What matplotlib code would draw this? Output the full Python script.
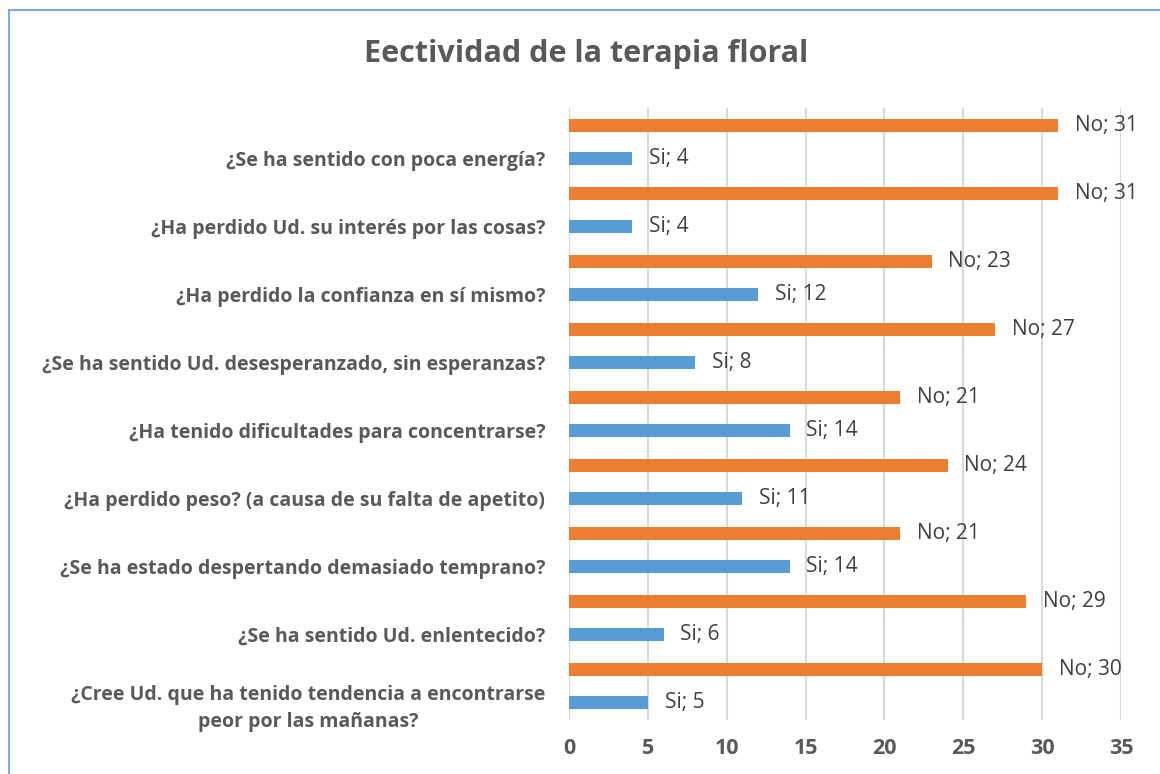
import numpy as np
import matplotlib.pyplot as plt
from matplotlib.patches import Rectangle

plt.rcParams['font.family'] = ['Open Sans', 'DejaVu Sans']

questions = [
    "¿Cree Ud. que ha tenido tendencia a encontrarse\npeor por las mañanas?",
    "¿Se ha sentido Ud. enlentecido?",
    "¿Se ha estado despertando demasiado temprano?",
    "¿Ha perdido peso? (a causa de su falta de apetito)",
    "¿Ha tenido dificultades para concentrarse?",
    "¿Se ha sentido Ud. desesperanzado, sin esperanzas?",
    "¿Ha perdido la confianza en sí mismo?",
    "¿Ha perdido Ud. su interés por las cosas?",
    "¿Se ha sentido con poca energía?",
]
si_values = [5, 6, 14, 11, 14, 8, 12, 4, 4]
no_values = [30, 29, 21, 24, 21, 27, 23, 31, 31]

text_color = '#595959'
blue = '#5B9BD5'
orange = '#ED7D31'

fig = plt.figure(figsize=(11.6, 7.74), dpi=100)
ax = fig.add_axes([0.4905, 0.0698, 0.4759, 0.7907])

y = np.arange(len(questions))
offset = 0.243
height = 0.19

ax.barh(y - offset, si_values, height=height, color=blue, zorder=3)
ax.barh(y + offset, no_values, height=height, color=orange, zorder=3)

for yi, v in zip(y, si_values):
    ax.annotate(f"Si; {v}", (v, yi - offset), xytext=(12, 0), textcoords='offset points',
                va='center', ha='left', fontsize=15, color='#404040')
for yi, v in zip(y, no_values):
    ax.annotate(f"No; {v}", (v, yi + offset), xytext=(12, 0), textcoords='offset points',
                va='center', ha='left', fontsize=15, color='#404040')

ax.set_xlim(0, 35)
ax.set_ylim(-0.5, len(questions) - 0.5)
ax.set_xticks(range(0, 36, 5))
ax.set_yticks(y - offset)
ax.set_yticklabels(questions, fontsize=14, fontweight='bold', color=text_color,
                   multialignment='center', linespacing=1.45)
ax.tick_params(axis='y', length=0, pad=17)
ax.tick_params(axis='x', length=0, pad=13, labelsize=15.5, labelcolor=text_color)
for lbl in ax.get_xticklabels():
    lbl.set_fontweight('bold')

ax.grid(axis='x', color='#d9d9d9', linewidth=1.5, zorder=0)
for s in ax.spines.values():
    s.set_visible(False)

fig.text(0.505, 0.930, "Eectividad de la terapia floral", ha='center', va='center',
         fontsize=22, fontweight='bold', color=text_color)

fig.patches.append(Rectangle((9 / 1160, -0.1), 1.2, 0.987 + 0.1, transform=fig.transFigure,
                             fill=False, edgecolor='#7fa9dc', linewidth=1.5))

fig.savefig('out.png', dpi=100)
